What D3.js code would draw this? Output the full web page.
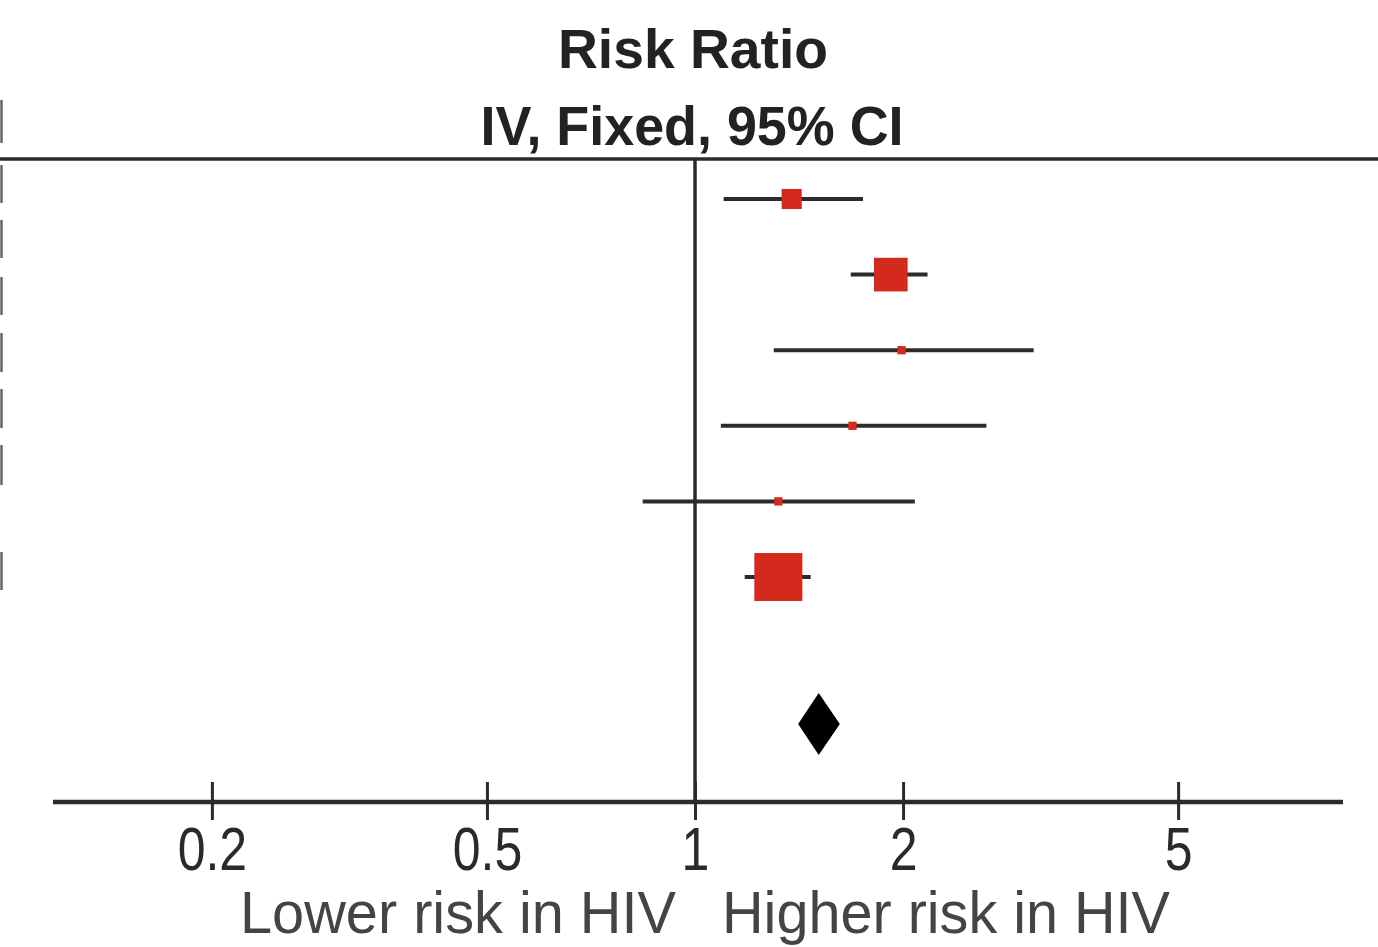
<!DOCTYPE html>
<html>
<head>
<meta charset="utf-8">
<script src="https://cdn.jsdelivr.net/npm/d3@7"></script>
<style>
  html, body { margin: 0; padding: 0; background: #fff; }
  svg { display: block; }
</style>
</head>
<body>
<svg id="chart" width="1378" height="947"></svg>
<script>
// ---- data ----
const studies = ["Study 1", "Study 2", "Study 3", "Study 4", "Study 5", "Study 6"];
const riskRatio = [1.38, 1.92, 1.99, 1.69, 1.32, 1.32];
const ciLower   = [1.10, 1.68, 1.30, 1.09, 0.84, 1.18];
const ciUpper   = [1.75, 2.17, 3.09, 2.64, 2.08, 1.47];
const weights   = [10, 28, 1.7, 1.7, 1.7, 57];
const pooled = { rr: 1.51, lower: 1.41, upper: 1.62 };
const tickValues = [0.2, 0.5, 1, 2, 5];
const tickLabels = ["0.2", "0.5", "1", "2", "5"];
const titleLines = ["Risk Ratio", "IV, Fixed, 95% CI"];
const favourLabels = ["Lower risk in HIV", "Higher risk in HIV"];

// ---- layout ----
const svg = d3.select("#chart");
const W = 1378, H = 947;
const axisY = 802;
const headerY = 159;

const x = d3.scaleLog().domain([0.1178, 8.66]).range([53, 1343]);
const rowY = d3.scalePoint().domain(studies).range([199, 577]);
const pooledY = 724;
const sizeScale = d3.scaleSqrt().domain([0, 57]).range([0, 48]);

const ink = "#2b2b2b";
const red = "#d42a1e";
const font = "'Liberation Sans', Arial, Helvetica, sans-serif";

// left edge fragments (from neighbouring column)
const edgeMarks = [[100, 143], [165, 203], [220, 258], [277, 315], [333, 372], [389, 428], [445, 485], [552, 590]];
svg.append("g").selectAll("line").data(edgeMarks).join("line")
  .attr("x1", 1.5).attr("x2", 1.5)
  .attr("y1", d => d[0]).attr("y2", d => d[1])
  .attr("stroke", "#666").attr("stroke-width", 2.5);

// title
svg.append("text").attr("x", 693).attr("y", 68)
  .attr("text-anchor", "middle").attr("font-family", font)
  .attr("font-weight", "bold").attr("font-size", 55).attr("fill", "#222")
  .attr("textLength", 270).attr("lengthAdjust", "spacingAndGlyphs")
  .text(titleLines[0]);
svg.append("text").attr("x", 692).attr("y", 145)
  .attr("text-anchor", "middle").attr("font-family", font)
  .attr("font-weight", "bold").attr("font-size", 55).attr("fill", "#222")
  .attr("textLength", 423).attr("lengthAdjust", "spacingAndGlyphs")
  .text(titleLines[1]);

// header rule
svg.append("line").attr("x1", 0).attr("x2", W)
  .attr("y1", headerY).attr("y2", headerY)
  .attr("stroke", ink).attr("stroke-width", 3.5);

// line of no effect
svg.append("line").attr("x1", x(1)).attr("x2", x(1))
  .attr("y1", headerY).attr("y2", axisY)
  .attr("stroke", ink).attr("stroke-width", 3.5);

// study rows
const rows = studies.map((s, i) => ({
  name: s, rr: riskRatio[i], lo: ciLower[i], hi: ciUpper[i], w: weights[i]
}));
const g = svg.append("g");
g.selectAll("line.ci").data(rows).join("line").attr("class", "ci")
  .attr("x1", d => x(d.lo)).attr("x2", d => x(d.hi))
  .attr("y1", d => rowY(d.name)).attr("y2", d => rowY(d.name))
  .attr("stroke", ink).attr("stroke-width", 4);
g.selectAll("rect.sq").data(rows).join("rect").attr("class", "sq")
  .attr("x", d => x(d.rr) - Math.max(sizeScale(d.w), 8) / 2)
  .attr("y", d => rowY(d.name) - Math.max(sizeScale(d.w), 6) / 2)
  .attr("width", d => Math.max(sizeScale(d.w), 8))
  .attr("height", d => Math.max(sizeScale(d.w), 6))
  .attr("fill", red);

// pooled diamond
const dh = 31;
svg.append("path")
  .attr("d", `M${x(pooled.lower)},${pooledY} L${x(pooled.rr)},${pooledY - dh} L${x(pooled.upper)},${pooledY} L${x(pooled.rr)},${pooledY + dh} Z`)
  .attr("fill", "#000");

// axis
const axis = d3.axisBottom(x).tickValues(tickValues)
  .tickFormat((d, i) => tickLabels[i]).tickSize(0).tickPadding(0);
const ag = svg.append("g").attr("transform", `translate(0,${axisY})`).call(axis);
ag.select(".domain").remove();
ag.selectAll(".tick text").remove();
ag.append("line").attr("x1", x.range()[0]).attr("x2", x.range()[1])
  .attr("y1", 0).attr("y2", 0).attr("stroke", ink).attr("stroke-width", 4.5);
ag.selectAll(".tick").append("line")
  .attr("y1", -20).attr("y2", 18).attr("stroke", ink).attr("stroke-width", 3);
ag.selectAll(".tick").append("text")
  .attr("y", 68).attr("text-anchor", "middle")
  .attr("font-family", font).attr("font-size", 61).attr("fill", "#2a2a2a")
  .attr("transform", "scale(0.82,1)")
  .text((d, i) => tickLabels[i]);

// favour labels
svg.append("text").attr("x", 676).attr("y", 933)
  .attr("text-anchor", "end").attr("font-family", font)
  .attr("font-size", 59).attr("fill", "#444")
  .attr("textLength", 436).attr("lengthAdjust", "spacingAndGlyphs")
  .text(favourLabels[0]);
svg.append("text").attr("x", 722).attr("y", 933)
  .attr("text-anchor", "start").attr("font-family", font)
  .attr("font-size", 59).attr("fill", "#444")
  .attr("textLength", 448).attr("lengthAdjust", "spacingAndGlyphs")
  .text(favourLabels[1]);
</script>
</body>
</html>
